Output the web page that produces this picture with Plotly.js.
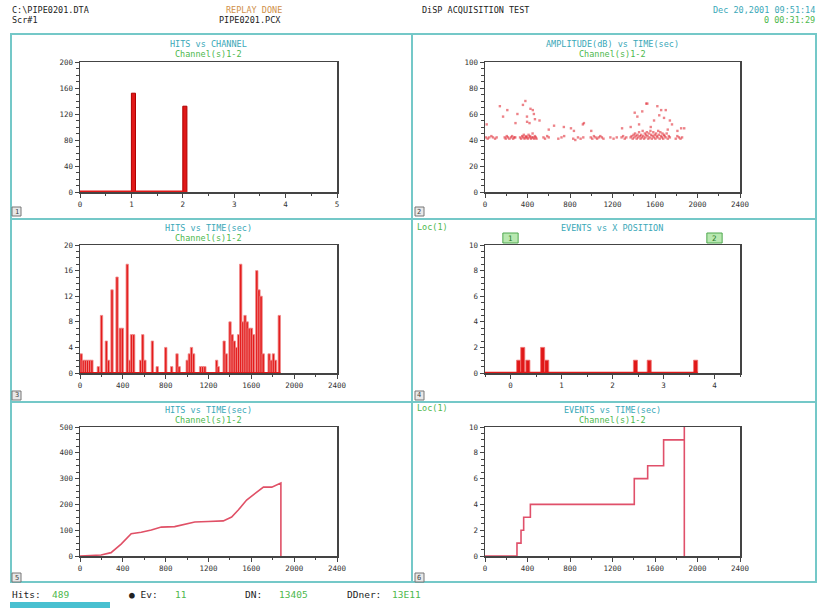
<!DOCTYPE html>
<html><head><meta charset="utf-8">
<script src="https://cdn.plot.ly/plotly-3.0.1.min.js"></script>
<style>html,body{margin:0;padding:0;background:#fff}#c{width:818px;height:608px}</style>
</head><body><div id="c"></div>
<script>
// ---- data ----
const channels = [1, 2];
const channelHits = [152, 132];

const histT = [0,20,40,60,80,100,160,190,235,255,288,335,365,385,430,455,470,490,555,575,595,665,710,790,845,895,915,990,1010,1030,1050,1115,1135,1155,1265,1280,1335,1355,1390,1410,1430,1450,1470,1490,1510,1530,1550,1570,1590,1610,1640,1660,1680,1700,1755,1775,1795,1815,1850];
const histN = [3,2,2,2,2,2,1,9,5,2,13,15,7,7,17,2,6,6,2,6,2,5,1,4,1,3,1,2,3,4,3,1,1,1,2,1,5,3,8,6,5,4,6,17,8,9,8,7,7,6,16,13,12,3,3,2,3,2,9];

const ampT = [10,25,40,60,75,95,110,185,195,205,215,230,245,255,265,275,285,330,340,350,358,365,372,380,388,395,402,410,418,425,433,440,448,455,462,470,478,485,550,565,585,600,690,720,745,830,850,875,900,925,995,1010,1025,1040,1055,1070,1085,1100,1115,1180,1210,1240,1285,1300,1315,1330,1370,1380,1390,1398,1405,1412,1420,1428,1435,1442,1450,1457,1464,1470,1477,1484,1490,1497,1504,1510,1517,1524,1530,1537,1544,1550,1557,1564,1570,1577,1584,1590,1597,1604,1610,1617,1624,1630,1637,1644,1650,1657,1664,1670,1677,1684,1690,1700,1710,1720,1730,1740,1795,1810,1825,1840,1855,
  16,140,170,210,287,305,357,380,395,396,419,428,450,460,470,513,600,650,742,809,837,921,931,1000,1290,1371,1409,1434,1450,1480,1517,1528,1560,1591,1622,1640,1658,1685,1701,1720,1740,1760,1811,1846,1875];
const ampDb = [42,41,42,43,42,41,42,42,41,43,42,41,42,43,41,42,42,42,41,43,42,44,41,42,43,42,41,44,42,43,41,42,45,42,41,43,42,41,42,41,43,42,41,42,43,41,40,42,41,42,42,41,43,42,41,42,43,42,41,42,41,42,42,43,41,42,42,43,41,44,42,45,43,41,44,42,46,43,41,44,42,47,43,41,45,42,44,46,43,41,45,42,47,44,41,43,46,42,44,41,45,43,42,47,44,41,46,43,42,45,41,44,43,42,45,41,43,42,41,43,42,41,42,
  52,66,58,63,53,60,67,70,58,54,53,64,63,60,56,55,48,51,50,49,47,52,53,47,49,50,61,58,52,62,68,68,50,55,66,59,63,57,63,48,55,52,47,49,49];

const posX = [0.12, 0.2, 0.3, 0.59, 0.67, 2.41, 2.68, 3.59];
const posEvents = [1, 2, 1, 2, 1, 1, 1, 1];

const cumT = [0,197,290,384,478,572,666,759,884,978,1072,1197,1338,1416,1478,1556,1634,1713,1791,1876,1876];
const cumHits = [0,4,13,46,86,92,101,112,114,122,132,134,136,151,178,217,243,267,267,283,0];

const evT = [0,301,339,364,427,1405,1531,1681,1876,1876];
const evCount = [0,1,2,3,4,6,7,9,10,0];

// ---- layout helpers ----
const W = 818, H = 608;
const px = v => v / W, py = v => 1 - v / H;
const FONT = 'DejaVu Sans Mono';
const RED = '#e01818';

function xax(a, b, range, dtick, minor, anchor) {
  return {domain: [px(a), px(b)], range: range, dtick: dtick, tick0: 0, anchor: anchor,
    showgrid: false, zeroline: false, showline: true, mirror: true, linecolor: '#444', linewidth: 1.5,
    ticks: 'outside', ticklen: 4, tickwidth: 1, tickcolor: '#444',
    minor: {dtick: minor, ticklen: 2.5, tickwidth: 1, tickcolor: '#444', ticks: 'outside', showgrid: false},
    tickfont: {family: FONT, size: 7.5, color: '#333'}, fixedrange: true};
}
function yax(top, bot, range, dtick, minor, anchor) {
  return {domain: [py(bot), py(top)], range: range, dtick: dtick, tick0: 0, anchor: anchor,
    showgrid: false, zeroline: false, showline: true, mirror: true, linecolor: '#444', linewidth: 1.5,
    ticks: 'outside', ticklen: 4, tickwidth: 1, tickcolor: '#444',
    minor: {dtick: minor, ticklen: 2.5, tickwidth: 1, tickcolor: '#444', ticks: 'outside', showgrid: false},
    tickfont: {family: FONT, size: 7.5, color: '#333'}, fixedrange: true};
}

const L = [80, 337], R = [485, 740];
const R1 = [62, 192], R2 = [245, 373], R3 = [427, 556];

const traces = [];
// Panel 1: hits vs channel
const chW = 0.08;
traces.push({type: 'scatter', mode: 'lines', x: [0, channels[channels.length - 1] + chW], y: [0, 0],
  line: {color: RED, width: 3}, xaxis: 'x', yaxis: 'y', hoverinfo: 'skip'});
traces.push({type: 'bar', x: channels, y: channelHits, width: chW, offset: 0,
  marker: {color: RED, line: {color: '#b00000', width: 1}}, xaxis: 'x', yaxis: 'y'});
// Panel 2: amplitude vs time
traces.push({type: 'scatter', mode: 'markers', x: ampT, y: ampDb,
  marker: {symbol: 'square', size: 2.4, color: 'rgba(222,30,40,0.55)'}, xaxis: 'x2', yaxis: 'y2'});
// Panel 3: hits vs time histogram
traces.push({type: 'scatter', mode: 'lines', x: [0, histT[histT.length - 1] + 22], y: [0, 0],
  line: {color: RED, width: 2}, xaxis: 'x3', yaxis: 'y3', hoverinfo: 'skip'});
traces.push({type: 'bar', x: histT, y: histN, width: 22, offset: 0,
  marker: {color: '#e41b1b', line: {color: '#f08a8a', width: 0.8}}, xaxis: 'x3', yaxis: 'y3'});
// Panel 4: events vs x position
const pW = 0.08;
traces.push({type: 'scatter', mode: 'lines', x: [-0.5, posX[posX.length - 1] + pW], y: [0, 0],
  line: {color: RED, width: 2.5}, xaxis: 'x4', yaxis: 'y4', hoverinfo: 'skip'});
traces.push({type: 'bar', x: posX, y: posEvents, width: pW, offset: 0,
  marker: {color: RED, line: {color: '#f07070', width: 0.8}}, xaxis: 'x4', yaxis: 'y4'});
// Panel 5: cumulative hits
traces.push({type: 'scatter', mode: 'lines', x: cumT, y: cumHits,
  line: {color: '#e05066', width: 1.6}, xaxis: 'x5', yaxis: 'y5'});
// Panel 6: cumulative events
traces.push({type: 'scatter', mode: 'lines', x: evT, y: evCount, line: {color: '#e0506a', width: 1.6, shape: 'hv'},
  xaxis: 'x6', yaxis: 'y6'});

const CY = '#3aa8b8', GR = '#4cb84c', BK = '#222';
function ann(text, x, y, color, anchor, size) {
  return {text: text, x: px(x), y: py(y), xref: 'paper', yref: 'paper', showarrow: false,
    xanchor: anchor || 'center', yanchor: 'middle', font: {family: FONT, size: size || 8.5, color: color}};
}
const annotations = [
  ann('C:\\PIPE0201.DTA', 10, 10, BK, 'left'),
  ann('Scr#1', 10, 20, BK, 'left'),
  ann('REPLAY DONE', 254, 10, '#d0904a'),
  ann('PIPE0201.PCX', 250, 20, BK),
  ann('DiSP ACQUISITION TEST', 420, 10, BK, 'left'),
  ann('Dec 20,2001 09:51:14', 817, 10, CY, 'right'),
  ann('0 00:31:29', 817, 20, GR, 'right'),
  ann('HITS vs CHANNEL', 208, 44, CY), ann('Channel(s)1-2', 208, 54, GR),
  ann('AMPLITUDE(dB) vs TIME(sec)', 612, 44, CY), ann('Channel(s)1-2', 612, 54, GR),
  ann('HITS vs TIME(sec)', 208, 228, CY), ann('Channel(s)1-2', 208, 238, GR),
  ann('EVENTS vs X POSITION', 612, 228, CY), ann('Loc(1)', 415, 227, GR, 'left'),
  ann('HITS vs TIME(sec)', 208, 410, CY), ann('Channel(s)1-2', 208, 420, GR),
  ann('EVENTS vs TIME(sec)', 612, 410, CY), ann('Channel(s)1-2', 612, 420, GR), ann('Loc(1)', 415, 408, GR, 'left'),
  ann('Hits:', 10, 594, BK, 'left', 9.5), ann('489', 50, 594, GR, 'left', 9.5),
  ann('\u25CF Ev:', 127, 594, BK, 'left', 9.5), ann('11', 173, 594, GR, 'left', 9.5),
  ann('DN:', 243, 594, BK, 'left', 9.5), ann('13405', 277, 594, GR, 'left', 9.5),
  ann('DDner:', 345, 594, BK, 'left', 9.5), ann('13E11', 390, 594, GR, 'left', 9.5)
];
// sensor markers in panel 4
const sensors = [0, 4];
sensors.forEach((s, i) => {
  annotations.push({text: String(i + 1), x: s, y: py(238), xref: 'x4', yref: 'paper', showarrow: false,
    font: {family: FONT, size: 7.5, color: '#2a7a2a'}, xanchor: 'center', yanchor: 'middle'});
});

const BC = '#74c8c8';
const shapes = [
  {type: 'rect', xref: 'paper', yref: 'paper', x0: px(11), x1: px(816), y0: py(582), y1: py(34), line: {color: BC, width: 2}},
  {type: 'line', xref: 'paper', yref: 'paper', x0: px(412), x1: px(412), y0: py(582), y1: py(34), line: {color: BC, width: 2}},
  {type: 'line', xref: 'paper', yref: 'paper', x0: px(11), x1: px(816), y0: py(219), y1: py(219), line: {color: BC, width: 2}},
  {type: 'line', xref: 'paper', yref: 'paper', x0: px(11), x1: px(816), y0: py(402), y1: py(402), line: {color: BC, width: 2}},
  {type: 'rect', xref: 'paper', yref: 'paper', x0: px(10), x1: px(110), y0: py(608), y1: py(602), fillcolor: '#48c0d0', line: {width: 0}}
];
sensors.forEach(s => shapes.push({type: 'rect', xref: 'x4', yref: 'paper', x0: s - 0.15, x1: s + 0.15,
  y0: py(243), y1: py(233), fillcolor: '#b8e8b0', line: {color: '#50a850', width: 1}}));
// panel number boxes
[[12, 207], [415, 207], [12, 391], [415, 391], [12, 573], [415, 573]].forEach((p, i) => {
  shapes.push({type: 'rect', xref: 'paper', yref: 'paper', x0: px(p[0]), x1: px(p[0] + 9), y0: py(p[1] + 9), y1: py(p[1]),
    fillcolor: '#e8e8e8', line: {color: '#777', width: 1}});
  annotations.push({text: String(i + 1), x: px(p[0] + 4.5), y: py(p[1] + 4.5), xref: 'paper', yref: 'paper', showarrow: false,
    font: {family: FONT, size: 7, color: '#444'}, xanchor: 'center', yanchor: 'middle'});
});

const layout = {
  width: W, height: H, margin: {l: 0, r: 0, t: 0, b: 0}, paper_bgcolor: '#fff', plot_bgcolor: '#fff',
  showlegend: false, barmode: 'overlay', bargap: 0,
  xaxis: xax(L[0], L[1], [0, 5], 1, 0.5, 'y'),
  yaxis: yax(R1[0], R1[1], [0, 200], 40, 10, 'x'),
  xaxis2: xax(R[0], R[1], [0, 2400], 400, 200, 'y2'),
  yaxis2: yax(R1[0], R1[1], [0, 100], 20, 5, 'x2'),
  xaxis3: xax(L[0], L[1], [0, 2400], 400, 200, 'y3'),
  yaxis3: yax(R2[0], R2[1], [0, 20], 4, 1, 'x3'),
  xaxis4: xax(R[0], R[1], [-0.5, 4.5], 1, 0.5, 'y4'),
  yaxis4: yax(R2[0], R2[1], [0, 10], 2, 0.5, 'x4'),
  xaxis5: xax(L[0], L[1], [0, 2400], 400, 200, 'y5'),
  yaxis5: yax(R3[0], R3[1], [0, 500], 100, 25, 'x5'),
  xaxis6: xax(R[0], R[1], [0, 2400], 400, 200, 'y6'),
  yaxis6: yax(R3[0], R3[1], [0, 10], 2, 0.5, 'x6'),
  annotations: annotations, shapes: shapes
};
Plotly.newPlot('c', traces, layout, {displayModeBar: false, staticPlot: true});
</script></body></html>
